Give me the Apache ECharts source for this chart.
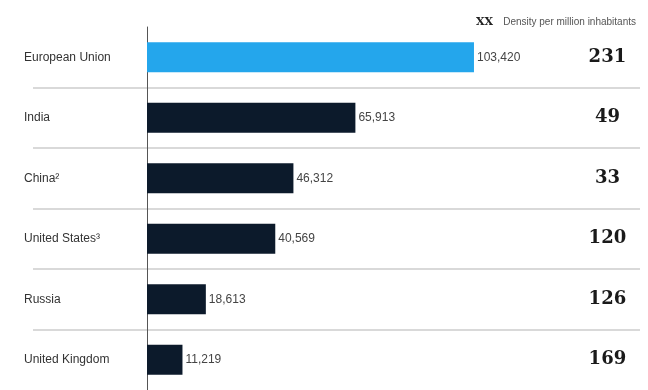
<!DOCTYPE html>
<html><head><meta charset="utf-8">
<script src="https://cdn.jsdelivr.net/npm/echarts@6/dist/echarts.min.js"></script>
<style>html,body{margin:0;padding:0;background:#fff}#c{width:648px;height:390px}</style>
</head><body><div id="c"></div>
<script>
const categories = ['European Union', 'India', 'China²', 'United States³', 'Russia', 'United Kingdom'];
const values = [103420, 65913, 46312, 40569, 18613, 11219];
const density = ['231', '49', '33', '120', '126', '169'];
const highlight = [true, false, false, false, false, false];

const chart = echarts.init(document.getElementById('c'));
chart.setOption({
  animation: false,
  title: {
    text: '{b|XX}  {s|Density per million inhabitants}',
    right: 7, top: 8,
    textStyle: { fontWeight: 'normal', rich: {
      b: { fontFamily: 'DejaVu Serif', fontWeight: 'bold', fontSize: 11, color: '#222' },
      s: { fontFamily: 'Liberation Sans', fontWeight: 'normal', fontSize: 10, color: '#555' }
    } }
  },
  grid: [
    { left: 147, width: 379.4, top: 27, bottom: -4 },
    { left: 33, right: 8, top: 27, bottom: -4 }
  ],
  xAxis: [
    { gridIndex: 0, type: 'value', min: 0, max: 120000, show: false },
    { gridIndex: 1, type: 'value', min: 0, max: 1, show: false }
  ],
  yAxis: [
    { gridIndex: 0, type: 'category', data: categories, inverse: true,
      axisLine: { show: true, lineStyle: { color: '#555', width: 1 } },
      axisTick: { show: false },
      axisLabel: { align: 'left', margin: 123, fontFamily: 'Liberation Sans', fontSize: 12, color: '#333' } },
    { gridIndex: 0, type: 'category', data: density, inverse: true, position: 'right',
      axisLine: { show: false }, axisTick: { show: false },
      axisLabel: { align: 'center', margin: 81, fontFamily: 'DejaVu Serif', fontWeight: 'bold', fontSize: 18, color: '#1a1a1a' } },
    { gridIndex: 1, type: 'category', data: categories, inverse: true,
      axisLine: { show: false }, axisTick: { show: false }, axisLabel: { show: false },
      splitLine: { show: true, showMinLine: false, showMaxLine: false, lineStyle: { color: '#d9d9d9', width: 2 } } }
  ],
  series: [{
    type: 'bar', xAxisIndex: 0, yAxisIndex: 0, barWidth: 30, z: 3,
    data: values.map((v, i) => ({ value: v, itemStyle: { color: highlight[i] ? '#24a6ec' : '#0c1a2b' } })),
    label: { show: true, position: 'right', distance: 3, fontFamily: 'Liberation Sans', fontSize: 12, color: '#444',
      formatter: p => p.value.toLocaleString('en-US') }
  }]
});
</script></body></html>
